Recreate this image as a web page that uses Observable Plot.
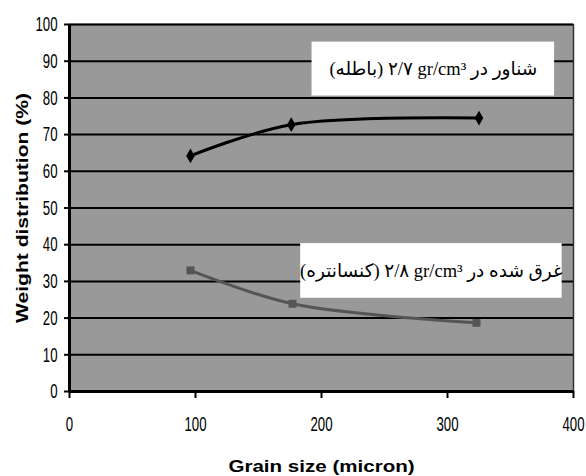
<!DOCTYPE html>
<html>
<head>
<meta charset="utf-8">
<script src="https://cdn.jsdelivr.net/npm/d3@7"></script>
<script src="https://cdn.jsdelivr.net/npm/@observablehq/plot@0.6"></script>
<style>
  html, body { margin: 0; padding: 0; background: #fff; }
  #chart svg { display: block; }
  #chart g[aria-label="y-axis tick label"] text,
  #chart g[aria-label="x-axis tick label"] text {
    font-family: "Liberation Sans", Arial, sans-serif;
    font-size: 21px;
    fill: #000;
  }
  #chart g[aria-label="x-axis label"] text,
  #chart g[aria-label="y-axis label"] text {
    font-family: "Liberation Sans", Arial, sans-serif;
    font-weight: bold;
    font-size: 17px;
    fill: #000;
  }
  #chart g.boxlabel text {
    direction: rtl;
    font-family: "Liberation Serif", "DejaVu Sans", serif;
    font-size: 18.5px;
    fill: #000;
  }
</style>
</head>
<body>
<div id="chart"></div>
<script>
// ---- data ----
const grainSize = [96, 176, 325];
const floatValues = [64.2, 72.7, 74.5];      // شناور (باطله)
const sinkSizes = [96, 177, 323];
const sinkValues = [33, 23.9, 18.7];          // غرق شده (کنسانتره)
const xTicks = [0, 100, 200, 300, 400];
const yTicks = [0, 10, 20, 30, 40, 50, 60, 70, 80, 90, 100];
const seriesLabels = [
  "شناور در gr/cm³\u200F ۲/۷ (باطله)",
  "غرق شده در gr/cm³\u200F ۲/۸ (کنسانتره)"
];
// annotation boxes (data units)
const boxX1 = [192.5, 183.5];
const boxX2 = [385, 391];
const boxY1 = [80.5, 25.4];
const boxY2 = [95.2, 40.3];
const xTitle = "Grain size (micron)";
const yTitle = "Weight distribution (%)";

const floatData = grainSize.map((x, i) => ({x, y: floatValues[i]}));
const sinkData = sinkSizes.map((x, i) => ({x, y: sinkValues[i]}));
const boxes = seriesLabels.map((t, i) => ({
  t, x1: boxX1[i], x2: boxX2[i], y1: boxY1[i], y2: boxY2[i],
  cx: (boxX1[i] + boxX2[i]) / 2, cy: (boxY1[i] + boxY2[i]) / 2
}));

const chart = Plot.plot({
  width: 586,
  height: 476,
  marginLeft: 69,
  marginRight: 13,
  marginTop: 24,
  marginBottom: 85,
  style: {background: "#fff", overflow: "visible"},
  x: {domain: [0, 400]},
  y: {domain: [0, 100]},
  marks: [
    Plot.frame({fill: "#999999", stroke: "#333", strokeWidth: 1.5}),
    Plot.ruleY(yTicks.slice(1), {stroke: "#000", strokeWidth: 2}),
    Plot.ruleX([0], {stroke: "#000", strokeWidth: 3}),
    Plot.ruleY([0], {stroke: "#000", strokeWidth: 3}),
    Plot.axisY({ticks: yTicks, tickSize: 5, tickPadding: 7, strokeWidth: 2, label: null}),
    Plot.axisX({ticks: xTicks, tickSize: 7, tickPadding: 18, strokeWidth: 2, label: null}),
    Plot.axisX({ticks: [], label: xTitle, labelAnchor: "center", labelOffset: 80, labelArrow: "none"}),
    Plot.axisY({ticks: [], label: yTitle, labelAnchor: "center", labelOffset: 54, labelArrow: "none"}),
    Plot.line(floatData, {x: "x", y: "y", stroke: "#000", strokeWidth: 3, curve: "catmull-rom"}),
    Plot.dot(floatData, {x: "x", y: "y", symbol: "diamond", r: 4.5, fill: "#000"}),
    Plot.line(sinkData, {x: "x", y: "y", stroke: "#555", strokeWidth: 3, curve: "catmull-rom"}),
    Plot.dot(sinkData, {x: "x", y: "y", symbol: "square", r: 4.5, fill: "#555"}),
    Plot.rect(boxes, {x1: "x1", x2: "x2", y1: "y1", y2: "y2", fill: "#fff"}),
    Plot.text(boxes, {x: "cx", y: "cy", text: "t", className: "boxlabel", textAnchor: "middle"})
  ]
});

// stretch texts horizontally (along the text direction), keeping Plot's own x/y/dy
function stretch(selector, sx) {
  chart.querySelectorAll(selector).forEach(t => {
    const tr = t.getAttribute("transform") || "";
    t.setAttribute("transform", `${tr} scale(${sx},1)`);
  });
}
stretch('g[aria-label="y-axis tick label"] text', 0.63);
stretch('g[aria-label="x-axis tick label"] text', 0.63);
stretch('g[aria-label="x-axis label"] text', 1.21);
stretch('g[aria-label="y-axis label"] text', 1.24);

document.getElementById("chart").appendChild(chart);
</script>
</body>
</html>
